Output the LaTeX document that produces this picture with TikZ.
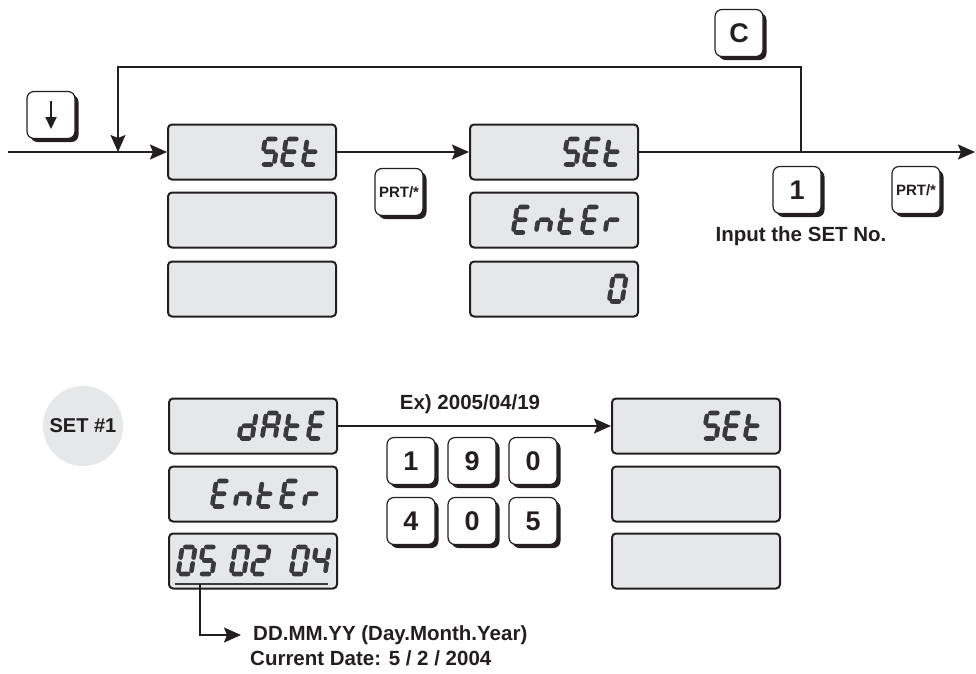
\documentclass[tikz,border=0pt]{standalone}
\usepackage{fontspec}
\setmainfont{Liberation Sans}
\usetikzlibrary{arrows.meta, shadows, positioning}

\definecolor{lcdbg}{HTML}{E6E7E8}
\definecolor{lcdink}{HTML}{3A3A3C}
\definecolor{inkline}{HTML}{231F20}

\tikzset{
  segline/.style={draw=lcdink, line width=4.6pt, line cap=round, xslant=0.17},
  sg/a/.style={insert path={(3,-25.5) -- (10,-25.5)}},
  sg/b/.style={insert path={(13,-22.5) -- (13,-15.5)}},
  sg/c/.style={insert path={(13,-10) -- (13,-3)}},
  sg/d/.style={insert path={(3,0) -- (10,0)}},
  sg/e/.style={insert path={(0,-3) -- (0,-10)}},
  sg/f/.style={insert path={(0,-15.5) -- (0,-22.5)}},
  sg/g/.style={insert path={(3,-12.75) -- (10,-12.75)}},
  pics/lcdS/.style={code={\path[segline] [sg/a,sg/f,sg/g,sg/c,sg/d];}},
  pics/lcdE/.style={code={\path[segline] [sg/a,sg/f,sg/g,sg/e,sg/d];}},
  pics/lcdt/.style={code={\path[segline] [sg/f,sg/e,sg/g,sg/d];}},
  pics/lcdn/.style={code={\path[segline] [sg/e,sg/g,sg/c];}},
  pics/lcdr/.style={code={\path[segline] [sg/e,sg/g];}},
  pics/lcdd/.style={code={\path[segline] [sg/b,sg/c,sg/d,sg/e,sg/g];}},
  pics/lcdA/.style={code={\path[segline] [sg/a,sg/b,sg/c,sg/e,sg/f,sg/g];}},
  pics/lcd0/.style={code={\path[segline] [sg/a,sg/b,sg/c,sg/d,sg/e,sg/f];}},
  pics/lcd2/.style={code={\path[segline] [sg/a,sg/b,sg/g,sg/e,sg/d];}},
  pics/lcd4/.style={code={\path[segline] [sg/f,sg/g,sg/b,sg/c];}},
  pics/lcd5/.style={code={\path[segline] [sg/a,sg/f,sg/g,sg/c,sg/d];}},
}

\begin{document}
\begin{tikzpicture}[x=1pt, y=-1pt,
    lcdbox/.style={draw=inkline, line width=2pt, fill=lcdbg, rounded corners=4pt,
      minimum width=168pt, minimum height=55pt, inner sep=0pt},
    keycap/.style={draw=inkline, line width=1.2pt, fill=white, rounded corners=7pt,
      minimum width=48pt, minimum height=47pt, inner sep=0pt,
      font=\bfseries\fontsize{27}{27}\selectfont, text=inkline,
      drop shadow={shadow xshift=3.5pt, shadow yshift=-3.5pt, fill=inkline, opacity=1}},
    prt/.style={font=\bfseries\fontsize{15}{15}\selectfont},
    lbl/.style={inner sep=0pt, font=\bfseries\fontsize{20.5}{24}\selectfont, text=inkline},
    setdot/.style={circle, fill=lcdbg, minimum size=80pt, inner sep=0pt,
      font=\bfseries\fontsize{20}{24}\selectfont, text=inkline},
    flow/.style={draw=inkline, line width=2pt, -{Stealth[length=17pt, width=15pt, inset=3pt]}}]
  \useasboundingbox (0,0) rectangle (976,673);

  \node[lcdbox] (s1a) at (252,152) {};
  \node[lcdbox] (s1b) at (252,220) {};
  \node[lcdbox] (s1c) at (252,289) {};
  \node[lcdbox] (s2a) at (554,152) {};
  \node[lcdbox] (s2b) at (554,220) {};
  \node[lcdbox] (s2c) at (554,289) {};
  \node[lcdbox] (b1a) at (253,426) {};
  \node[lcdbox] (b1b) at (253,494) {};
  \node[lcdbox] (b1c) at (253,561) {};
  \node[lcdbox] (b2a) at (696,426) {};
  \node[lcdbox] (b2b) at (696,494) {};
  \node[lcdbox] (b2c) at (696,561) {};

  \foreach \ch/\x in {S/261,E/282,t/303} \pic at (\x,164.5) {lcd\ch};
  \foreach \ch/\x in {S/563,E/584,t/605} \pic at (\x,164.5) {lcd\ch};
  \foreach \ch/\x in {E/513,n/536,t/559,E/582,r/605} \pic at (\x,232.5) {lcd\ch};
  \pic at (609,301.5) {lcd0};
  \foreach \ch/\x in {d/239,A/262,t/285,E/308} \pic at (\x,438.5) {lcd\ch};
  \foreach \ch/\x in {E/212,n/235,t/258,E/281,r/304} \pic at (\x,506.5) {lcd\ch};
  \foreach \ch/\x in {0/178,5/199,0/231,2/252,0/291,4/312} \pic[yscale=1.06] at (\x,574) {lcd\ch};
  \foreach \ch/\x in {S/703,E/724,t/745} \pic at (\x,438.5) {lcd\ch};
  \draw[draw=lcdink, line width=2pt] (175,584) -- (328,584);

  \node[keycap] (kdown) at (51,115) {};
  \draw[draw=inkline, line width=2pt, -{Triangle[length=12pt, width=11pt]}]
    ([yshift=14pt]kdown.center) -- ([yshift=-14pt]kdown.center);
  \node[keycap] (kc) at (739,33) {C};
  \node[keycap, prt] (kprt1) at (399,192) {PRT/*};
  \node[keycap] (k1) at (797,190) {1};
  \node[keycap, prt] (kprt2) at (916,190) {PRT/*};
  \foreach \lab/\x/\y in {1/411/461, 9/472/461, 0/533/461, 4/411/521, 0/472/521, 5/533/521}
    \node[keycap] (kp\x\y) at (\x,\y) {\lab};

  \node[setdot] (set1) at (83,426) {SET \#1};
  \node[lbl] (setno) at (801,236) {Input the SET No.};
  \node[lbl] (ex) at (470,404) {Ex) 2005/04/19};

  \coordinate (in) at (8,152);
  \coordinate (out) at (975,152);
  \coordinate (cj) at (801,152);
  \coordinate (lj) at (118,152);
  \coordinate (ul) at (200,584);
  \coordinate (fmt) at (241,635);

  \node[lbl, anchor=west, right=12pt of fmt] (fmttxt) {DD.MM.YY (Day.Month.Year)};
  \node[lbl, anchor=west] (cur) at (250,658) {Current Date: 5 / 2 / 2004};

  \draw[flow] (in) -- (s1a);
  \draw[flow] (s1a) -- (s2a);
  \draw[flow] (s2a) -- (out);
  \draw[flow, line width=1.5pt] (cj) -- ++(0,-85) -| (lj);
  \draw[flow] (b1a) -- (b2a);
  \draw[flow, line width=1.8pt] (ul) |- (fmt);
\end{tikzpicture}
\end{document}
